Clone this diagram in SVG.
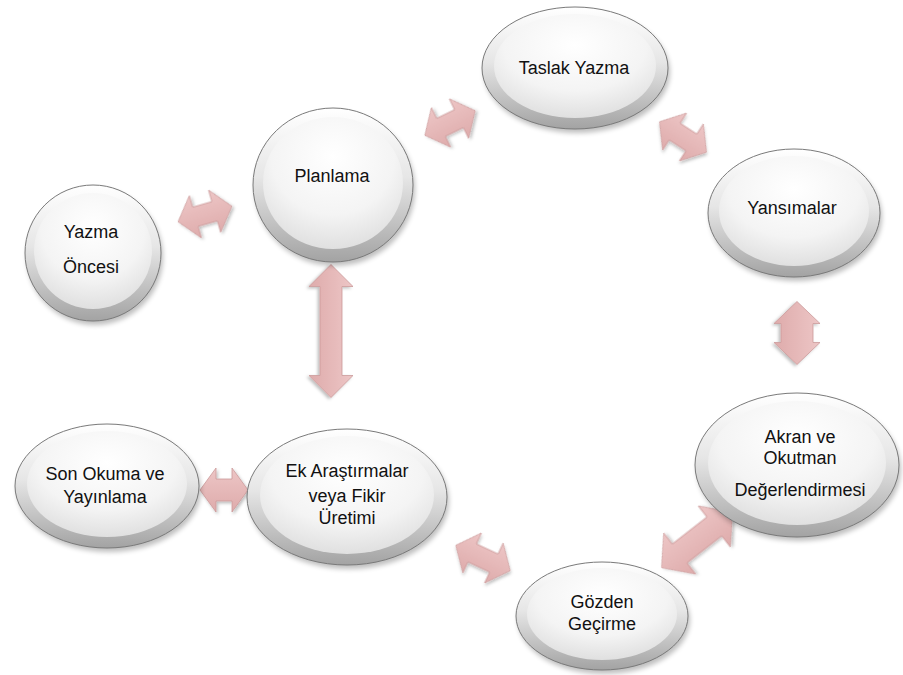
<svg xmlns="http://www.w3.org/2000/svg" width="903" height="675" viewBox="0 0 903 675">
<defs>
<linearGradient id="ring" x1="0" y1="0" x2="0" y2="1">
<stop offset="0" stop-color="#ffffff"/>
<stop offset="0.45" stop-color="#e6e6e6"/>
<stop offset="1" stop-color="#a3a3a3"/>
</linearGradient>
<radialGradient id="face" cx="0.5" cy="0.3" r="0.8">
<stop offset="0" stop-color="#ffffff"/>
<stop offset="0.55" stop-color="#f4f4f4"/>
<stop offset="1" stop-color="#d8d8d8"/>
</radialGradient>
<linearGradient id="arrowFill" x1="0" y1="0" x2="0" y2="1">
<stop offset="0" stop-color="#edc6c6"/>
<stop offset="1" stop-color="#deabab"/>
</linearGradient>
<filter id="blur" x="-20%" y="-20%" width="140%" height="140%">
<feGaussianBlur stdDeviation="2.5"/>
</filter>
<filter id="ashadow" x="-30%" y="-30%" width="160%" height="160%">
<feDropShadow dx="1.5" dy="2" stdDeviation="1.5" flood-color="#000" flood-opacity="0.25"/>
</filter>
</defs>
<style>
.sh{fill:#000;opacity:0.25;filter:url(#blur)}
.ring{fill:url(#ring);stroke:#7a7a7a;stroke-width:1}
.face{fill:url(#face)}
.lbl{font-family:"Liberation Sans",Arial,sans-serif;font-size:18px;fill:#111;text-anchor:middle}
.arr{fill:url(#arrowFill);stroke:#cc9a9a;stroke-width:0.8;filter:url(#ashadow)}
</style>
<rect width="903" height="675" fill="#ffffff"/>

<g id="connectors">
<path class="arr" transform="translate(205,214) rotate(-16)" d="M-28,0 L-10,-22 L-10,-10 L10,-10 L10,-22 L28,0 L10,22 L10,10 L-10,10 L-10,22 Z"/>
<path class="arr" transform="translate(450,123) rotate(-26)" d="M-28,0 L-10,-22 L-10,-10 L10,-10 L10,-22 L28,0 L10,22 L10,10 L-10,10 L-10,22 Z"/>
<path class="arr" transform="translate(683,137) rotate(33)" d="M-28,0 L-10,-22 L-10,-10 L10,-10 L10,-22 L28,0 L10,22 L10,10 L-10,10 L-10,22 Z"/>
<path class="arr" transform="translate(797,333) rotate(90)" d="M-31.5,0 L-9.5,-23 L-9.5,-16 L9.5,-16 L9.5,-23 L31.5,0 L9.5,23 L9.5,16 L-9.5,16 L-9.5,23 Z"/>
<path class="arr" transform="translate(697,540) rotate(-38)" d="M-45,0 L-22,-26 L-22,-12 L22,-12 L22,-26 L45,0 L22,26 L22,12 L-22,12 L-22,26 Z"/>
<path class="arr" transform="translate(483,558) rotate(25)" d="M-30,0 L-12,-22 L-12,-10 L12,-10 L12,-22 L30,0 L12,22 L12,10 L-12,10 L-12,22 Z"/>
<path class="arr" transform="translate(224,490)" d="M-24,0 L-8,-22 L-8,-11 L8,-11 L8,-22 L24,0 L8,22 L8,11 L-8,11 L-8,22 Z"/>
<path class="arr" transform="translate(331,331) rotate(90)" d="M-66.5,0 L-44.5,-22 L-44.5,-11 L44.5,-11 L44.5,-22 L66.5,0 L44.5,22 L44.5,11 L-44.5,11 L-44.5,22 Z"/>
</g>

<g id="node-yazma-oncesi">
<ellipse class="sh" cx="95" cy="257" rx="68" ry="68"/>
<ellipse class="ring" cx="93" cy="253" rx="68" ry="68"/>
<ellipse class="face" cx="93" cy="251" rx="59" ry="58"/>
<text class="lbl" x="91" y="238">Yazma</text>
<text class="lbl" x="91" y="273">Öncesi</text>
</g>

<g id="node-planlama">
<ellipse class="sh" cx="335" cy="189" rx="80" ry="77"/>
<ellipse class="ring" cx="333" cy="185" rx="80" ry="77"/>
<ellipse class="face" cx="333" cy="183" rx="70" ry="66"/>
<text class="lbl" x="332" y="182">Planlama</text>
</g>

<g id="node-taslak-yazma">
<ellipse class="sh" cx="577" cy="72" rx="93" ry="61"/>
<ellipse class="ring" cx="575" cy="68" rx="93" ry="61"/>
<ellipse class="face" cx="575" cy="66" rx="81" ry="52"/>
<text class="lbl" x="574" y="74">Taslak Yazma</text>
</g>

<g id="node-yansimalar">
<ellipse class="sh" cx="796" cy="217" rx="86" ry="64"/>
<ellipse class="ring" cx="794" cy="213" rx="86" ry="64"/>
<ellipse class="face" cx="794" cy="211" rx="75" ry="55"/>
<text class="lbl" x="792" y="214">Yansımalar</text>
</g>

<g id="node-akran">
<ellipse class="sh" cx="799" cy="469" rx="102" ry="72"/>
<ellipse class="ring" cx="797" cy="465" rx="102" ry="72"/>
<ellipse class="face" cx="797" cy="463" rx="89" ry="62"/>
<text class="lbl" x="800" y="443">Akran ve</text>
<text class="lbl" x="800" y="464">Okutman</text>
<text class="lbl" x="800" y="496">Değerlendirmesi</text>
</g>

<g id="node-gozden-gecirme">
<ellipse class="sh" cx="604" cy="620" rx="86" ry="54"/>
<ellipse class="ring" cx="602" cy="616" rx="86" ry="54"/>
<ellipse class="face" cx="602" cy="614" rx="75" ry="46"/>
<text class="lbl" x="602" y="608">Gözden</text>
<text class="lbl" x="602" y="630">Geçirme</text>
</g>

<g id="node-ek-arastirmalar">
<ellipse class="sh" cx="349" cy="501" rx="100" ry="68"/>
<ellipse class="ring" cx="347" cy="497" rx="100" ry="68"/>
<ellipse class="face" cx="347" cy="495" rx="87" ry="59"/>
<text class="lbl" x="347" y="477">Ek Araştırmalar</text>
<text class="lbl" x="347" y="502">veya Fikir</text>
<text class="lbl" x="347" y="524">Üretimi</text>
</g>

<g id="node-son-okuma">
<ellipse class="sh" cx="109" cy="490" rx="92" ry="62"/>
<ellipse class="ring" cx="107" cy="486" rx="92" ry="62"/>
<ellipse class="face" cx="107" cy="484" rx="80" ry="53"/>
<text class="lbl" x="105" y="480">Son Okuma ve</text>
<text class="lbl" x="105" y="503">Yayınlama</text>
</g>
</svg>
